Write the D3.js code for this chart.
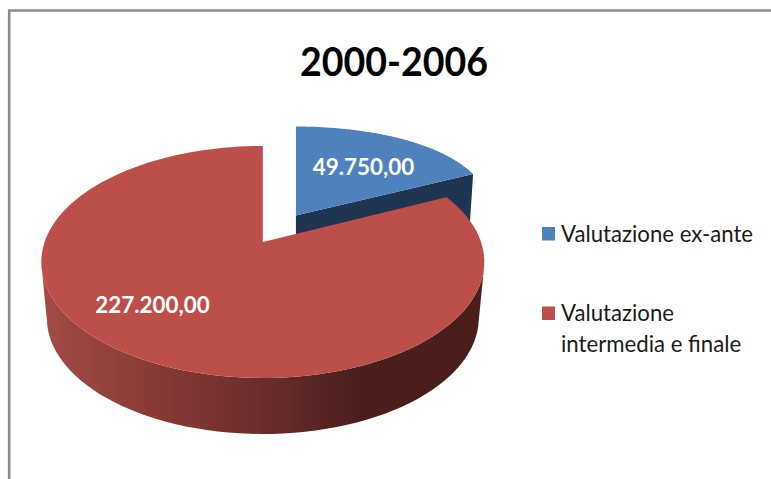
<!DOCTYPE html>
<html>
<head>
<meta charset="utf-8">
<script src="https://cdn.jsdelivr.net/npm/d3@7"></script>
<style>
  body { margin: 0; background: #fff; }
  text { font-family: Lato, "Open Sans", sans-serif; }
</style>
</head>
<body>
<div id="chart"></div>
<script>
var title = "2000-2006";
var categories = ["Valutazione ex-ante", "Valutazione intermedia e finale"];
var values = [49750, 227200];
var valueLabels = ["49.750,00", "227.200,00"];
var legendLines = [["Valutazione ex-ante"], ["Valutazione", "intermedia e finale"]];
var topColors = ["#4f81bd", "#bd4f4b"];
var sideColor = "#1f3552";
var sideStops = ["#a44c47", "#8a3a36", "#642a28", "#4b1e1c", "#4b1e1c"];
var sideOffsets = [0, 0.25, 0.55, 0.72, 1];

var width = 771, height = 479;
var svg = d3.select("#chart").append("svg").attr("width", width).attr("height", height);

// frame, only top and left show
svg.append("path").attr("d", "M9.2,479V10.5H771").attr("fill", "none").attr("stroke", "#8c8c8c").attr("stroke-width", 2.6);

svg.append("text").attr("x", 394).attr("y", 75.5).attr("text-anchor", "middle")
    .attr("font-size", 40).attr("font-weight", 700).attr("fill", "#000")
    .attr("textLength", 188).attr("lengthAdjust", "spacingAndGlyphs").text(title);

// pie plane to screen, tilted disc with some perspective
var k = 0.172, A = 218.2, B = 112.6;
function project(u, v, o) {
    var w = 1 - k * v;
    return [o.x + o.a * (u - o.u) / (o.flat ? 1 : w) + (o.flat ? 0 : o.a * o.u / w), o.y + B * v / w];
}
var redFrame = { x: 262.8, y: 242, a: A, u: 0 };
var blueFrame = { x: 295.5, y: 242, a: 196, u: 0.153, flat: true };
var explode = 0.29;

function arcPoints(a0, a1, cu, cv, o) {
    var n = 120, pts = [];
    d3.range(n + 1).forEach(function (i) {
        var t = a0 + (a1 - a0) * i / n;
        pts.push(project(cu + Math.sin(t), cv - Math.cos(t), o));
    });
    return pts;
}

var arcs = d3.pie().sort(null).value(function (d) { return d; })(values);
var line = d3.line();

var blue = arcs[0], red = arcs[1];
var mid = (blue.startAngle + blue.endAngle) / 2;
var cu = Math.sin(mid) * explode, cv = -Math.cos(mid) * explode;

// blue slice, cut face first then top
var apexB = project(cu, cv, blueFrame);
var tipB = project(cu + Math.sin(blue.endAngle), cv - Math.cos(blue.endAngle), blueFrame);
svg.append("path").attr("fill", sideColor)
    .attr("d", line([apexB, tipB, [tipB[0] - 3, tipB[1] + 47], [apexB[0], apexB[1] + 40]]) + "Z");
svg.append("path").attr("fill", topColors[0])
    .attr("d", line([apexB].concat(arcPoints(blue.startAngle, blue.endAngle, cu, cv, blueFrame))) + "Z");

// red slice side wall
var grad = svg.append("defs").append("linearGradient").attr("id", "redSide")
    .attr("gradientUnits", "userSpaceOnUse").attr("x1", 41).attr("x2", 484).attr("y1", 0).attr("y2", 0);
grad.selectAll("stop").data(sideStops).enter().append("stop")
    .attr("offset", function (d, i) { return sideOffsets[i]; })
    .attr("stop-color", function (d) { return d; });

// only the front half of the rim is seen, from the widest point down
var wallTop = arcPoints(red.startAngle, red.endAngle, 0, 0, redFrame).filter(function (p) { return p[1] >= 262; });
var wallBottom = wallTop.map(function (p) {
    return [262.5 + (p[0] - 262.5) * 0.975, p[1] + 56];
});
svg.append("path").attr("fill", "url(#redSide)")
    .attr("d", line(wallTop.concat(wallBottom.reverse())) + "Z");

svg.append("path").attr("fill", topColors[1])
    .attr("d", line([project(0, 0, redFrame)].concat(arcPoints(red.startAngle, red.endAngle, 0, 0, redFrame))) + "Z");

// data labels
var labelPos = [[363.5, 168], [152.5, 306]];
svg.selectAll("text.val").data(valueLabels).enter().append("text").attr("class", "val")
    .attr("x", function (d, i) { return labelPos[i][0]; })
    .attr("y", function (d, i) { return labelPos[i][1] + 7; })
    .attr("text-anchor", "middle").attr("font-size", 22.4).attr("font-weight", 700).attr("fill", "#fff")
    .text(function (d) { return d; });

// legend
var legendY = [233, 312.5];
var legend = svg.selectAll("g.leg").data(categories).enter().append("g").attr("class", "leg");
legend.append("rect").attr("x", 542).attr("width", 13).attr("height", 13.5)
    .attr("y", function (d, i) { return legendY[i] - 6; })
    .attr("fill", function (d, i) { return topColors[i]; });
legend.each(function (d, i) {
    d3.select(this).selectAll("text").data(legendLines[i]).enter().append("text")
        .attr("x", 561).attr("y", function (l, j) { return legendY[i] + 8.5 + j * 31; })
        .attr("font-size", 22.2).attr("fill", "#1a1a1a").text(function (l) { return l; });
});
</script>
</body>
</html>
